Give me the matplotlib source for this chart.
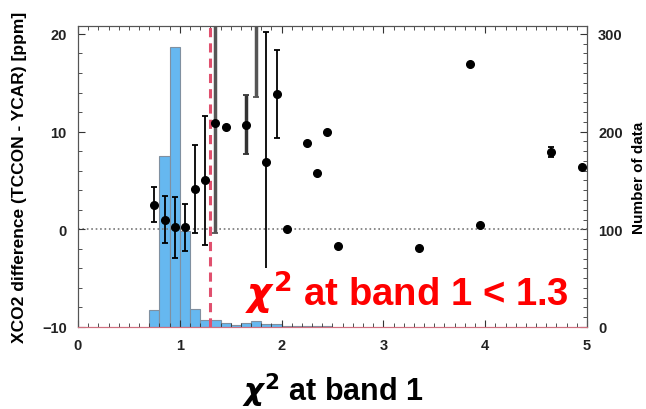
import numpy as np
import matplotlib
matplotlib.use("Agg")
import matplotlib.pyplot as plt
from matplotlib.ticker import MultipleLocator

plt.rcParams['font.family'] = ['Liberation Sans', 'DejaVu Sans']
plt.rcParams['font.weight'] = 'bold'

# histogram of chi2 values (bins of 0.1)
bin_left = [0.7, 0.8, 0.9, 1.0, 1.1, 1.2, 1.3, 1.4, 1.5, 1.6, 1.7, 1.8, 1.9,
            2.0, 2.1, 2.2, 2.3, 2.4]
counts = [17, 175, 287, 98, 18, 7, 7, 4, 2, 4, 6, 3, 3,
          1, 1, 1, 1, 1]

# mean XCO2 difference per chi2 bin
chi_x = [0.75, 0.85, 0.95, 1.05, 1.15, 1.25, 1.35, 1.45, 1.65, 1.75, 1.85,
         1.95, 2.05, 2.25, 2.35, 2.45, 2.55, 3.35, 3.85, 3.95, 4.65, 4.95]
diff = [2.5, 1.0, 0.2, 0.2, 4.1, 5.0, 10.9, 10.5, 10.7, 24.0, 6.9,
        13.8, 0.0, 8.8, 5.8, 10.0, -1.7, -1.9, 16.9, 0.4, 7.9, 6.4]
err = [1.8, 2.4, 3.1, 2.4, 4.5, 6.6, 11.3, 0.0, 3.0, 10.5, 13.3,
       4.5, 0.0, 0.0, 0.0, 0.0, 0.0, 0.0, 0.0, 0.0, 0.5, 0.0]
err_col = ['k', 'k', 'k', 'k', 'k', 'k', '#555555', 'k', '#333333', '#555555', 'k',
           'k', 'k', 'k', 'k', 'k', 'k', 'k', 'k', 'k', 'k', 'k']

fig = plt.figure(figsize=(6.46, 4.10), dpi=100)
ax = fig.add_axes([0.1207, 0.2, 0.788, 0.734])
ax2 = ax.twinx()

ax2.bar(bin_left, counts, width=0.1, align='edge', color='#66b8f0',
        edgecolor='#8090a0', linewidth=0.8)
ax2.set_ylim(0, 308)
ax2.yaxis.set_major_locator(MultipleLocator(100))
ax2.yaxis.set_minor_locator(MultipleLocator(10))
ax2.set_ylabel('Number of data', fontsize=11, fontweight='bold', va='center')
ax2.yaxis.set_label_coords(1.103, 0.5)

ax.set_zorder(ax2.get_zorder() + 1)
ax.patch.set_visible(False)

ax.axhline(0, color='#777777', linestyle=':', linewidth=1.2, zorder=1)
ax.axvline(1.3, color='#e0506e', linestyle=(0, (3, 2)), linewidth=2.2, zorder=2)

for x, y, e, c in zip(chi_x, diff, err, err_col):
    lw = 2.5 if c != 'k' else 1.3
    ax.errorbar(x, y, yerr=e if e > 0 else None, fmt='o', color='k', ms=5.5,
                ecolor=c, elinewidth=lw, capsize=2.5, capthick=1.3, zorder=3)

ax.set_xlim(0, 5)
ax.set_ylim(-10, 20.8)
ax.xaxis.set_major_locator(MultipleLocator(1))
ax.xaxis.set_minor_locator(MultipleLocator(0.1))
ax.yaxis.set_major_locator(MultipleLocator(10))
ax.yaxis.set_minor_locator(MultipleLocator(2))
ax.set_ylabel('XCO2 difference (TCCON - YCAR) [ppm]', fontsize=12.5,
              fontweight='bold', va='center')
ax.yaxis.set_label_coords(-0.115, 0.5)
ax.set_xlabel(r'$\chi^2$ at band 1', fontsize=22, fontweight='bold', labelpad=13)

for a in (ax, ax2):
    a.tick_params(which='both', direction='in', colors='#333333', labelsize=10.5,
                  top=True, pad=8)
    a.tick_params(which='major', length=5)
    a.tick_params(which='minor', length=3)
    for s in a.spines.values():
        s.set_color('#555555')
        s.set_linewidth(0.8)
    a.spines['bottom'].set_color('#d07080')
for lab in ax.get_xticklabels() + ax.get_yticklabels() + ax2.get_yticklabels():
    lab.set_fontweight('bold')
    lab.set_color('#222222')

ax.text(1.64, -6.5, r'$\chi^2$ at band 1 < 1.3',
        fontsize=27.5, fontweight='bold', color='red', ha='left', va='center',
        zorder=5, bbox=dict(facecolor='white', edgecolor='none', pad=1))

fig.savefig('out.png', dpi=100)
